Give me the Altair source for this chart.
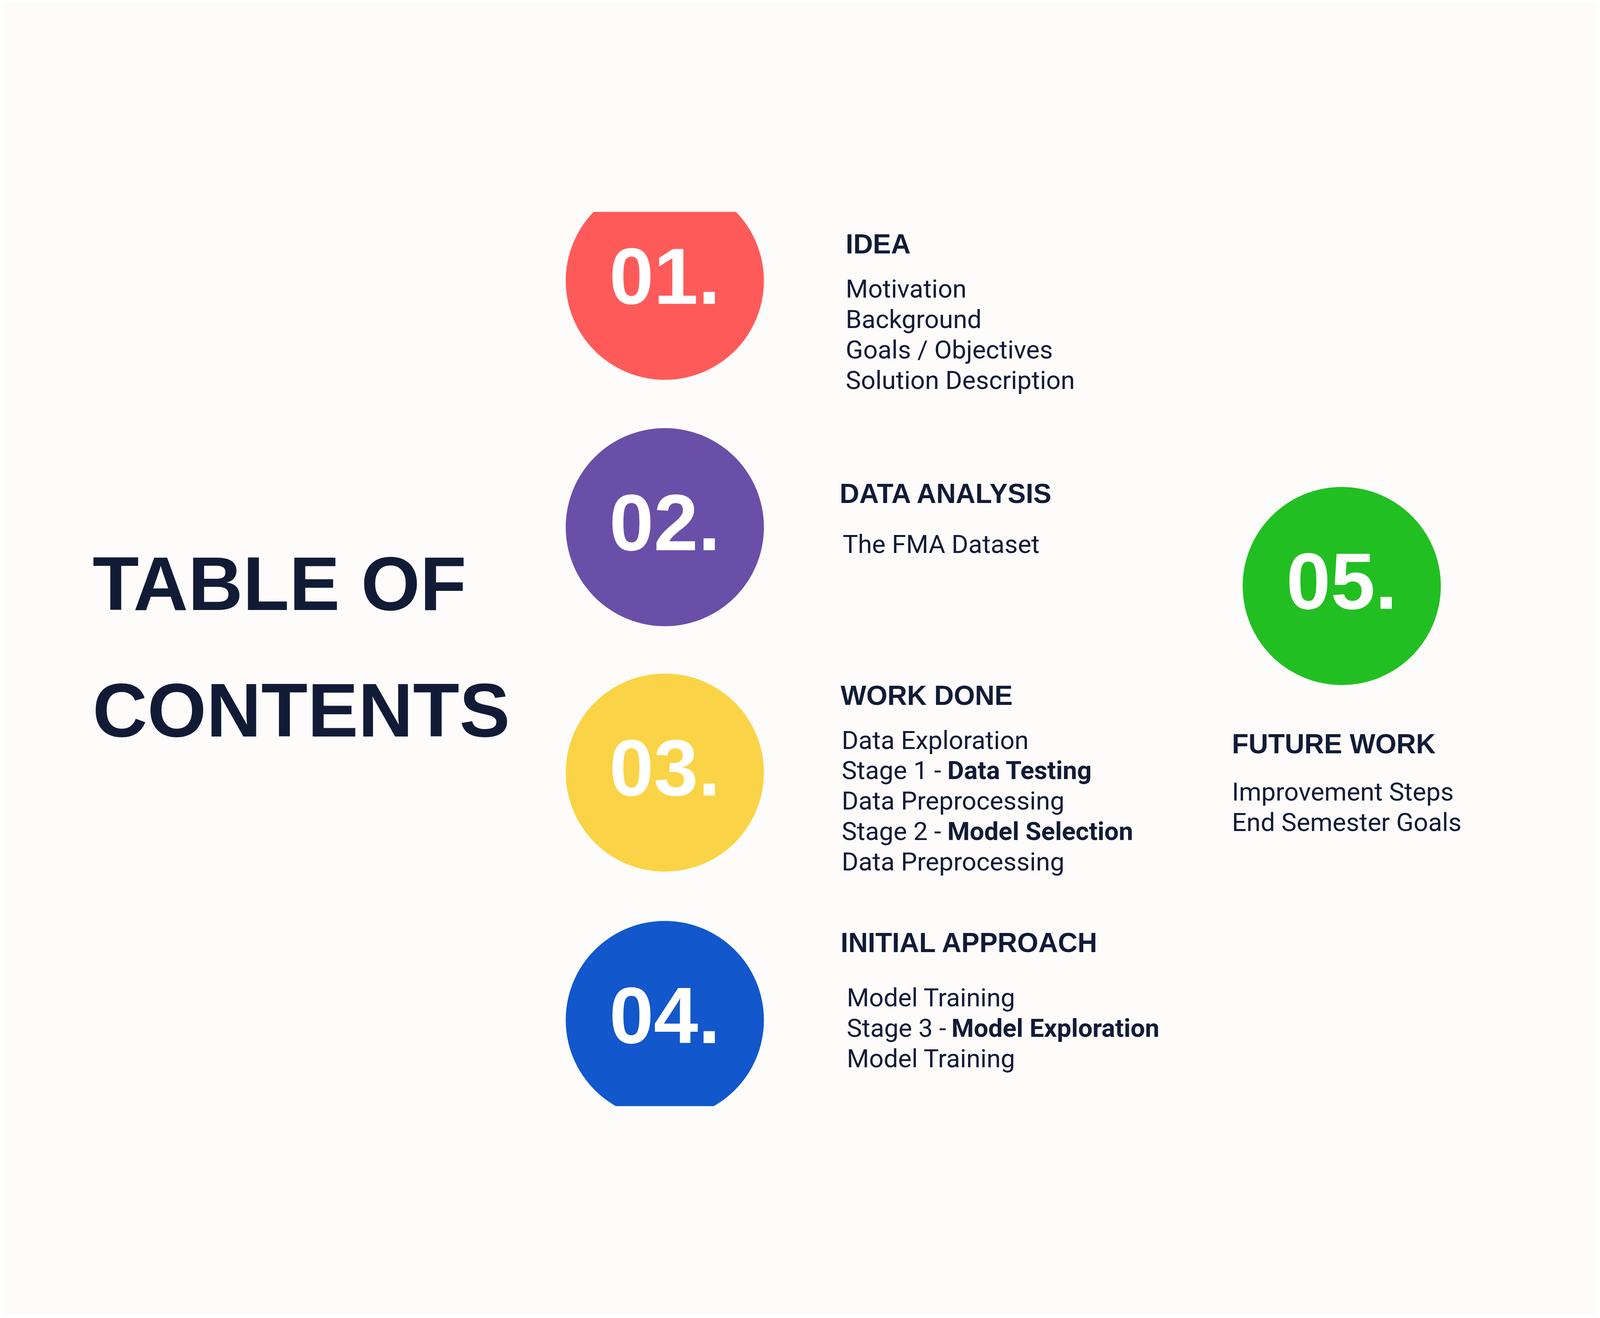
import altair as alt
import pandas as pd

W, H = 5984, 3359
S = W / 1568.0  # display-unit to px

circle_labels = ["01.", "02.", "03.", "04.", "05."]
circle_colors = ["#FF5A5A", "#6A4FA8", "#FAD446", "#1257CC", "#22BF22"]
circle_x = [651, 651, 651, 651, 1317]
circle_y = [68, 311, 553, 797, 369]

title_lines = ["TABLE OF", "CONTENTS"]
title_x = [88, 88]
title_y = [370, 495]

headings = ["IDEA", "DATA ANALYSIS", "WORK DONE", "INITIAL APPROACH", "FUTURE WORK"]
heading_x = [829, 823, 824, 824, 1209]
heading_y = [33, 279, 478, 722, 526]

body = ["Motivation", "Background", "Goals / Objectives", "Solution Description",
        "The FMA Dataset",
        "Data Exploration", "Stage 1 - ", "Data Preprocessing", "Stage 2 - ", "Data Preprocessing",
        "Model Training", "Stage 3 - ", "Model Training",
        "Improvement Steps", "End Semester Goals"]
body_x = [829, 829, 829, 829, 826, 825, 825, 825, 825, 825, 830, 830, 830, 1209, 1209]
body_y = [77, 107, 137, 167, 329, 522, 552, 582, 612, 642, 776, 806, 836, 573, 603]

bold = ["Data Testing", "Model Selection", "Model Exploration"]
bold_x = [929, 929, 933]
bold_y = [552, 612, 806]

NAVY = "#121B36"
COND = "Liberation Sans Narrow, Liberation Sans, Arial, sans-serif"

xs = alt.Scale(domain=[0, 1568], range=[0, W])
ys = alt.Scale(domain=[0, 882], range=[0, H])

def enc():
    return dict(x=alt.X("x:Q", scale=xs, axis=None), y=alt.Y("y:Q", scale=ys, axis=None))

cdf = pd.DataFrame({"t": circle_labels, "c": circle_colors, "x": circle_x, "y": circle_y})
circles = alt.Chart(cdf).mark_circle(size=3.14159 * (110 * S) ** 2, opacity=1, clip=True).encode(
    **enc(), color=alt.Color("c:N", scale=None))
nums = alt.Chart(cdf).mark_text(font=COND, fontWeight="bold", fontSize=300, color="white",
                                align="center", baseline="middle", dy=-4).encode(**enc(), text="t:N")

tdf = pd.DataFrame({"t": title_lines, "x": title_x, "y": title_y})
title = alt.Chart(tdf).mark_text(font=COND, fontWeight="bold", fontSize=285, color=NAVY,
                                 align="left", baseline="middle").encode(**enc(), text="t:N")

hdf = pd.DataFrame({"t": headings, "x": heading_x, "y": heading_y})
heads = alt.Chart(hdf).mark_text(font=COND, fontWeight="bold", fontSize=102, color=NAVY,
                                 align="left", baseline="middle").encode(**enc(), text="t:N")

bdf = pd.DataFrame({"t": body, "x": body_x, "y": body_y})
bodies = alt.Chart(bdf).mark_text(font="Roboto", fontSize=96, color=NAVY,
                                  align="left", baseline="middle").encode(**enc(), text="t:N")

bbdf = pd.DataFrame({"t": bold, "x": bold_x, "y": bold_y})
bolds = alt.Chart(bbdf).mark_text(font="Roboto", fontWeight="bold", fontSize=96, color=NAVY,
                                  align="left", baseline="middle").encode(**enc(), text="t:N")

chart = alt.layer(circles, nums, title, heads, bodies, bolds).properties(
    width=W, height=H, autosize="none", padding=0, background="#FDFCFB"
).configure_view(stroke=None)

chart.save("out.html", embed_options={"renderer": "svg", "actions": False})
